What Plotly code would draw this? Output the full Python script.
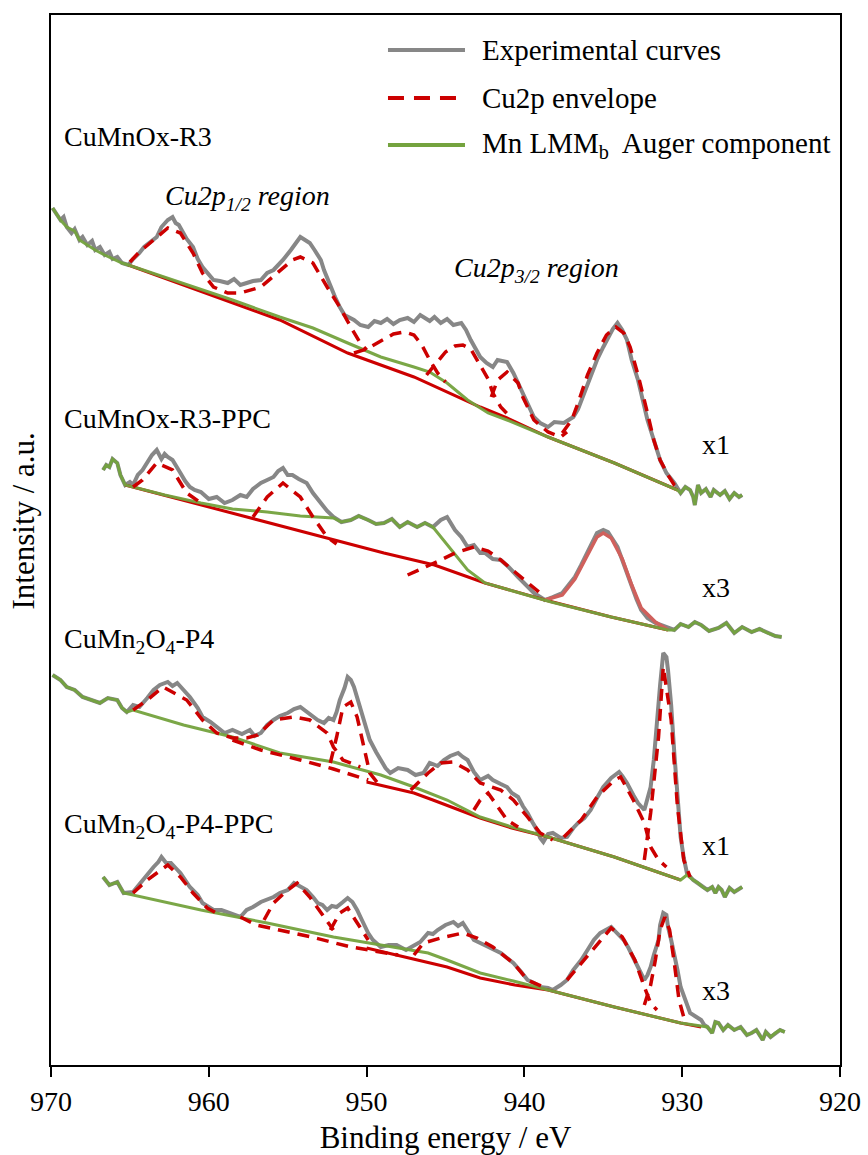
import plotly.graph_objects as go

# ---------------- data (binding energy eV, intensity a.u.) ----------------
x_ticks = [970, 960, 950, 940, 930, 920]

sample_names = ["CuMnOx-R3", "CuMnOx-R3-PPC", "CuMn<sub>2</sub>O<sub>4</sub>-P4", "CuMn<sub>2</sub>O<sub>4</sub>-P4-PPC"]
scale_labels = ["x1", "x3", "x1", "x3"]

# ---- CuMnOx-R3 (x1)
r3_exp = [(969.9,857),(969.6,850),(969.4,845),(969.2,848),(969.0,838),(968.7,832),(968.5,836),(968.2,825),(968.0,828),
          (967.7,820),(967.4,824),(967.2,815),(966.9,818),(966.6,810),(966.3,813),(966.1,806),(965.8,808),(965.5,802),
          (965.1,800),(964.8,806),(964.4,812),(964.1,818),(963.8,822),(963.3,828),(963.0,838),(962.6,845),(962.3,848),
          (962.1,842),(961.9,840),(961.7,835),(961.4,826),(961.0,818),(960.7,806),(960.4,798),(960.0,790),(959.7,785),
          (959.3,784),(958.8,782),(958.4,786),(958.0,780),(957.6,782),(957.2,784),(956.7,785),(956.3,792),(955.9,795),
          (955.7,798),(955.3,805),(954.8,815),(954.5,822),(954.2,828),(953.9,825),(953.6,822),(953.3,815),(952.9,805),
          (952.7,795),(952.3,778),(952.0,768),(951.7,758),(951.4,750),(950.8,745),(950.4,740),(949.9,738),(949.5,744),
          (949.1,742),(948.7,746),(948.3,741),(947.9,745),(947.4,747),(947.0,743),(946.6,750),(946.4,748),(946.0,744),
          (945.7,748),(945.3,742),(944.9,746),(944.5,740),(944.0,742),(943.7,735),(943.4,725),(943.0,714),(942.8,708),
          (942.4,702),(942.0,698),(941.7,705),(941.3,703),(941.1,703),(940.7,692),(940.4,682),(940.1,672),(939.7,660),
          (939.4,648),(939.0,642),(938.5,638),(938.1,643),(937.5,642),(937.2,645),(936.9,648),(936.6,656),(936.2,672),
          (935.8,688),(935.4,705),(935.0,718),(934.7,728),(934.4,736),(934.1,742),(933.8,735),(933.5,725),(933.2,705),
          (932.8,685),(932.5,665),(932.2,645),(931.8,625),(931.4,605),(931.0,592),(930.5,582),(930.1,572),(929.8,578),
          (929.5,575),(929.3,568),(929.2,560),(929.0,580),(928.8,572),(928.5,576),(928.2,568),(928.0,575),(927.6,570),
          (927.3,574),(927.0,566),(926.7,572),(926.4,568),(926.2,570)]
r3_bg = [(965.1,800),(958.5,762),(955.5,745),(951.2,712),(947.0,688),(942.8,658),(941.1,647),(938.5,628),(934.3,602),(930.3,575)]
r3_aug = [(969.9,857),(969.4,845),(969.0,838),(968.5,834),(968.2,825),(967.7,820),(967.2,815),(966.6,810),(966.1,806),
          (965.5,802),(965.1,800),(958.5,765),(955.5,748),(953.4,737),(951.2,722),(949.1,708),(947.0,698),(946.0,693),
          (944.9,682),(943.6,665),(942.3,652),(941.1,645),(938.5,628),(934.3,602),(930.3,575),(930.1,572),(929.8,578),
          (929.5,575),(929.3,568),(929.2,560),(929.0,580),(928.8,572),(928.5,576),(928.2,568),(928.0,575),(927.6,570),
          (927.3,574),(927.0,566),(926.7,572),(926.4,568),(926.2,570)]
r3_env = [
    [(965.0,803),(964.4,813),(963.5,825),(962.6,837),(961.8,832),(961.0,812),(960.4,792),(959.7,778),(958.8,772),
     (958.0,772),(956.7,778),(955.7,792),(954.7,805),(954.2,808),(953.4,802),(952.5,778),(951.7,758),(951.0,738),
     (950.4,722),(950.0,715)],
    [(950.8,712),(950.0,716),(949.1,724),(948.3,731),(947.6,733),(947.0,730),(946.5,720),(946.0,705),(945.5,692),(945.0,683)],
    [(946.2,690),(945.6,702),(945.0,713),(944.4,719),(943.9,720),(943.4,716),(943.0,705),(942.3,686),(942.0,672),
     (941.5,658),(940.9,648)],
    [(942.1,668),(941.7,685),(941.1,693),(940.4,682),(940.1,668),(939.4,645),(938.5,633),(937.7,628),(937.3,633)],
    [(937.6,632),(937.0,645),(936.6,662),(936.0,690),(935.4,712),(934.8,730),(934.2,738),(933.7,732),(933.3,718),
     (932.8,690),(932.2,652),(931.8,625),(931.4,605),(930.9,590),(930.5,580),(930.1,575)],
]
r3_env_solid = []

# ---- CuMnOx-R3-PPC (x3)
r3p_exp = [(966.7,595),(966.5,600),(966.3,598),(966.1,606),(965.8,602),(965.6,590),(965.3,580),(965.0,583),(964.8,580),
           (964.5,590),(964.2,595),(963.9,603),(963.6,610),(963.3,615),(963.0,606),(962.8,611),(962.6,608),(962.3,605),
           (962.0,598),(961.8,592),(961.5,584),(961.2,578),(960.9,575),(960.5,573),(960.0,566),(959.5,568),(959.0,562),
           (958.5,565),(958.0,570),(957.6,568),(957.2,576),(956.7,582),(956.3,585),(955.9,588),(955.6,594),(955.3,597),
           (955.0,590),(954.7,590),(954.3,586),(953.8,582),(953.4,572),(952.9,562),(952.5,554),(952.1,548),(951.6,543),
           (951.0,545),(950.5,549),(949.9,545),(949.4,541),(948.9,542),(948.4,546),(947.9,538),(947.4,543),(946.8,538),
           (946.3,542),(945.8,538),(945.3,545),(944.9,548),(944.6,540),(944.4,535),(944.0,528),(943.6,518),(943.2,520),
           (942.8,512),(942.5,512),(942.0,506),(941.5,505),(941.0,498),(940.4,488),(939.9,480),(939.4,472),(939.0,468),
           (938.7,465),(938.2,468),(937.6,472),(937.2,480),(936.8,488),(936.4,500),(936.0,512),(935.7,522),(935.4,532),
           (935.0,535),(934.7,533),(934.5,528),(934.1,518),(933.8,505),(933.5,492),(933.2,478),(932.9,466),(932.6,455),
           (932.2,447),(931.7,442),(931.3,440),(930.9,437),(930.5,435),(930.1,441),(929.6,438),(929.2,443),(928.8,440),
           (928.3,434),(927.7,437),(927.2,442),(926.7,432),(926.2,438),(925.6,433),(925.1,436),(924.6,432),(924.1,429),
           (923.7,428)]
r3p_bg = [(965.3,580),(960.5,560),(956.3,543),(952.1,525),(948.9,512),(945.7,500),(942.5,482),(938.7,465),(934.5,448),(930.9,435)]
r3p_aug = [(966.7,595),(966.5,600),(966.3,598),(966.1,606),(965.8,602),(965.6,590),(965.3,580),(962.8,570),(960.5,562),
           (958.5,556),(956.3,553),(954.2,549),(952.1,547),(951.6,543),(951.0,545),(950.5,549),(949.9,545),(949.4,541),
           (948.9,542),(948.4,546),(947.9,538),(947.4,543),(946.8,538),(946.3,542),(945.8,538),(945.3,528),(944.6,515),
           (943.6,495),(942.5,482),(941.4,477),(938.3,463),(934.5,448),(930.9,435),(930.5,435),(930.1,441),(929.6,438),
           (929.2,443),(928.8,440),(928.3,434),(927.7,437),(927.2,442),(926.7,432),(926.2,438),(925.6,433),(925.1,436),
           (924.6,432),(924.1,429),(923.7,428)]
r3p_env = [
    [(964.8,578),(964.2,585),(963.3,602),(962.3,595),(961.4,572),(960.5,562)],
    [(957.2,548),(956.3,568),(955.3,582),(954.2,568),(953.4,548),(952.5,528),(951.9,521)],
    [(947.4,490),(946.4,497),(945.3,505),(944.4,512),(943.2,518),(942.3,514),(941.5,505),(940.6,493),(939.8,482),(938.7,468)],
]
r3p_env_solid = [(938.7,465),(937.6,470),(936.8,486),(936.0,510),(935.4,528),(935.0,532),(934.5,527),(933.8,506),
                 (933.2,480),(932.6,457),(931.7,443),(930.9,435)]

# ---- CuMn2O4-P4 (x1)
p4_exp = [(969.9,390),(969.4,385),(969.0,378),(968.5,375),(968.0,368),(967.4,365),(966.9,362),(966.4,367),(965.8,365),
          (965.5,357),(965.2,353),(964.8,360),(964.4,358),(963.9,367),(963.5,375),(963.1,380),(962.6,383),(962.3,379),
          (962.0,382),(961.6,375),(961.2,368),(960.7,357),(960.4,348),(959.9,343),(959.5,338),(959.0,332),(958.5,335),
          (957.9,331),(957.4,335),(957.1,329),(956.7,332),(956.3,340),(955.9,345),(955.5,349),(955.0,352),(954.6,356),
          (954.2,358),(953.8,353),(953.4,348),(953.1,345),(952.7,342),(952.4,347),(952.1,345),(951.9,353),(951.7,365),
          (951.4,377),(951.2,388),(951.0,385),(950.8,378),(950.6,368),(950.4,358),(950.1,340),(949.8,325),(949.4,313),
          (949.1,305),(948.8,297),(948.5,292),(948.0,297),(947.4,295),(946.9,290),(946.4,292),(946.0,302),(945.5,299),
          (945.1,305),(944.7,309),(944.2,312),(943.9,308),(943.6,305),(943.2,293),(942.8,285),(942.3,289),(942.0,285),
          (941.5,281),(941.1,278),(940.8,272),(940.4,268),(940.1,259),(939.8,252),(939.5,243),(939.2,235),(939.0,227),
          (938.8,223),(938.5,231),(938.2,232),(937.7,227),(937.3,228),(936.9,237),(936.6,242),(936.2,247),(935.8,255),
          (935.4,267),(935.0,278),(934.5,287),(934.2,291),(934.0,293),(933.8,289),(933.5,282),(933.1,270),(932.8,262),
          (932.4,255),(932.2,265),(932.0,278),(931.8,305),(931.6,345),(931.4,380),(931.2,412),(931.0,408),(930.9,395),
          (930.7,360),(930.5,312),(930.3,265),(930.1,228),(929.9,207),(929.7,192),(929.3,185),(929.0,182),(928.7,178),
          (928.4,175),(928.1,178),(927.9,172),(927.7,178),(927.5,175),(927.3,168),(927.0,177),(926.7,173),(926.4,176),
          (926.2,178)]
p4_bg = [(950.0,283),(947.0,272),(945.8,265),(942.8,247),(940.8,237),(938.5,228),(934.3,208),(930.1,185)]
p4_aug = [(969.9,390),(969.4,385),(969.0,378),(968.5,375),(968.0,368),(967.4,365),(966.9,362),(966.4,367),(965.8,365),
          (965.5,357),(965.2,353),(964.8,355),(961.6,340),(958.5,328),(955.5,312),(952.1,303),(949.1,290),(947.0,278),
          (944.9,265),(942.8,248),(940.8,238),(938.5,228),(934.3,208),(930.1,185),(929.7,190),(929.3,185),(929.0,182),
          (928.7,178),(928.4,175),(928.1,178),(927.9,172),(927.7,178),(927.5,175),(927.3,168),(927.0,177),(926.7,173),
          (926.4,176),(926.2,178)]
p4_env = [
    [(964.8,355),(963.9,365),(962.9,378),(961.4,365),(960.4,345),(959.5,332),(958.5,327),(957.6,327),(956.9,330),
     (955.9,345),(954.6,348),(953.6,345),(952.5,332),(952.1,318),(951.5,305),(950.4,298)],
    [(952.3,302),(951.9,328),(951.5,358),(951.0,363),(950.6,348),(950.2,318),(949.8,292),(949.3,282)],
    [(958.5,325),(956.7,315),(954.2,305),(952.1,296),(949.9,285)],
    [(947.2,275),(946.1,292),(945.3,302),(944.5,303),(943.6,295),(942.8,282),(941.5,275),(940.7,265),(939.8,248),
     (939.0,232),(938.2,225)],
    [(943.2,255),(942.8,265),(942.3,272),(941.7,258),(941.1,245),(940.4,238)],
    [(937.5,228),(936.4,245),(935.4,268),(934.3,285),(933.9,288),(933.1,265),(932.4,242),(932.0,218),(931.5,205),(931.0,198)],
    [(932.4,205),(932.0,252),(931.5,328),(931.2,398),(930.7,345),(930.3,258),(929.9,205),(929.5,188)],
]
p4_env_solid = []

# ---- CuMn2O4-P4-PPC (x3)
p4p_exp = [(966.7,188),(966.3,180),(965.8,183),(965.4,172),(964.8,173),(964.2,185),(963.5,198),(963.2,203),(963.0,208),
           (962.7,202),(962.4,202),(962.1,197),(961.8,192),(961.2,178),(960.7,170),(960.4,162),(959.7,155),(959.2,155),
           (958.6,152),(958.0,148),(957.6,155),(957.2,158),(956.7,163),(956.3,165),(955.9,168),(955.5,172),(955.0,175),
           (954.6,182),(954.2,179),(953.8,175),(953.4,168),(953.1,162),(952.8,160),(952.5,155),(952.2,159),(951.9,158),
           (951.5,163),(951.2,167),(950.9,163),(950.6,155),(950.3,145),(949.9,132),(949.6,125),(949.1,118),(948.6,120),
           (948.1,120),(947.5,115),(947.0,120),(946.6,123),(946.1,132),(945.8,131),(945.5,135),(945.0,140),(944.5,143),
           (944.2,139),(943.9,142),(943.5,133),(943.2,125),(942.8,122),(942.3,118),(942.0,115),(941.5,112),(941.1,107),
           (940.7,102),(940.2,93),(939.8,85),(939.4,82),(939.0,78),(938.5,77),(938.2,75),(937.7,80),(937.3,85),(936.9,95),
           (936.4,105),(936.0,115),(935.6,125),(935.2,132),(934.9,135),(934.5,138),(934.2,133),(933.7,125),(933.4,117),
           (933.1,108),(932.8,97),(932.4,85),(932.2,90),(932.0,98),(931.8,110),(931.5,125),(931.4,140),(931.2,152),
           (931.0,150),(930.9,138),(930.7,125),(930.5,112),(930.3,95),(930.1,78),(929.8,65),(929.5,52),(929.1,48),
           (928.8,45),(928.6,40),(928.4,38),(928.1,32),(927.9,43),(927.7,42),(927.4,35),(927.1,40),(926.7,35),(926.3,38),
           (925.9,30),(925.6,32),(925.3,35),(924.9,25),(924.7,33),(924.4,28),(924.1,32),(923.8,35),(923.5,33)]
p4p_bg = [(950.0,117),(947.0,106),(944.9,98),(942.8,87),(940.6,80),(938.5,75),(934.3,58),(930.1,42),(928.8,38)]
p4p_aug = [(966.7,188),(966.3,180),(965.8,183),(965.4,172),(960.5,155),(956.3,142),(952.1,128),(949.0,120),(946.1,112),
           (944.9,105),(942.8,92),(940.7,84),(938.5,75),(934.3,58),(930.1,42),(928.4,38),(928.1,32),(927.9,43),(927.7,42),
           (927.4,35),(927.1,40),(926.7,35),(926.3,38),(925.9,30),(925.6,32),(925.3,35),(924.9,25),(924.7,33),(924.4,28),
           (924.1,32),(923.8,35),(923.5,33)]
p4p_env = [
    [(964.8,172),(963.9,185),(962.6,200),(961.8,188),(961.0,172),(960.1,157),(959.3,150)],
    [(956.5,145),(955.9,162),(955.0,175),(954.4,182),(953.6,168),(952.7,148),(952.1,135)],
    [(952.3,135),(951.7,152),(951.2,157),(950.4,138),(949.9,125)],
    [(958.0,148),(957.0,140),(953.5,128),(951.0,118),(948.0,110)],
    [(947.0,110),(946.4,122),(945.3,127),(943.9,132),(943.0,127),(942.0,118),(940.7,102),(939.8,85),(938.8,78)],
    [(937.3,85),(936.4,102),(935.5,118),(934.5,137),(933.8,128),(933.0,105),(932.4,78),(932.0,62),(931.6,55)],
    [(932.4,60),(932.0,80),(931.7,105),(931.4,135),(931.1,148),(930.8,135),(930.5,102),(930.2,65),(929.8,42)],
]
p4p_env_solid = []

spectra = [
    (r3_exp, r3_bg, r3_aug, r3_env, r3_env_solid),
    (r3p_exp, r3p_bg, r3p_aug, r3p_env, r3p_env_solid),
    (p4_exp, p4_bg, p4_aug, p4_env, p4_env_solid),
    (p4p_exp, p4p_bg, p4p_aug, p4p_env, p4p_env_solid),
]

legend_labels = ["Experimental curves", "Cu2p envelope", "Mn LMM<sub>b</sub>  Auger component"]

# ---------------- styling ----------------
FONT = "Liberation Serif"
GRAY = "#878787"
RED = "#CC0000"
RED_LIGHT = "#D0605C"
GREEN = "#74A33E"


def xy(points):
    return [p[0] for p in points], [p[1] for p in points]


def xy_segments(segs):
    xs, ys = [], []
    for s in segs:
        a, b = xy(s)
        xs += a + [None]
        ys += b + [None]
    return xs, ys


fig = go.Figure()
for exp, bg, aug, env, env_solid in spectra:
    x, y = xy(exp)
    fig.add_trace(go.Scatter(x=x, y=y, mode="lines", line=dict(color=GRAY, width=4), showlegend=False))
    x, y = xy(bg)
    fig.add_trace(go.Scatter(x=x, y=y, mode="lines", line=dict(color=RED, width=3), showlegend=False))
    if env_solid:
        x, y = xy(env_solid)
        fig.add_trace(go.Scatter(x=x, y=y, mode="lines", line=dict(color=RED_LIGHT, width=3.5), showlegend=False))
    x, y = xy(aug)
    fig.add_trace(go.Scatter(x=x, y=y, mode="lines", line=dict(color=GREEN, width=3), opacity=0.95, showlegend=False))
    x, y = xy_segments(env)
    fig.add_trace(go.Scatter(x=x, y=y, mode="lines", connectgaps=False,
                             line=dict(color=RED, width=3.5, dash="12px,8px"), showlegend=False))

# manual legend (long line samples as in the original)
leg_y = [0.9667, 0.9210, 0.8762]
leg_styles = [dict(color=GRAY, width=4), dict(color=RED, width=4, dash="16px,10px"), dict(color=GREEN, width=4)]
shapes = []
annotations = []
for ly, st, lab in zip(leg_y, leg_styles, legend_labels):
    shapes.append(dict(type="line", xref="paper", yref="paper", x0=0.4271, x1=0.5247, y0=ly, y1=ly, line=st))
    annotations.append(dict(xref="paper", yref="paper", x=0.5437, y=ly, text=lab, showarrow=False,
                            xanchor="left", yanchor="middle", font=dict(family=FONT, size=29, color="black")))

# sample labels
label_pos = [(969.3, 929), (969.3, 647), (969.3, 425), (969.3, 240)]
scale_pos = [(928.9, 621), (928.9, 478), (928.9, 220), (928.9, 75)]
for (lx, ly), name in zip(label_pos, sample_names):
    annotations.append(dict(x=lx, y=ly, text=name, showarrow=False, xanchor="left", yanchor="middle",
                            font=dict(family=FONT, size=28, color="black")))
for (sx, sy), s in zip(scale_pos, scale_labels):
    annotations.append(dict(x=sx, y=sy, text=s, showarrow=False, xanchor="left", yanchor="middle",
                            font=dict(family=FONT, size=28, color="black")))

annotations.append(dict(x=962.9, y=868, text="<i>Cu2p<sub>1/2</sub> region</i>", showarrow=False,
                        xanchor="left", yanchor="middle", font=dict(family=FONT, size=28, color="black")))
annotations.append(dict(x=944.6, y=796, text="<i>Cu2p<sub>3/2</sub> region</i>", showarrow=False,
                        xanchor="left", yanchor="middle", font=dict(family=FONT, size=28, color="black")))

# y-axis title
annotations.append(dict(xref="paper", yref="paper", x=-0.035, y=0.518, text="Intensity / a.u.", textangle=-90,
                        showarrow=False, xanchor="center", yanchor="middle",
                        font=dict(family=FONT, size=31, color="black")))

fig.update_layout(
    width=868, height=1155,
    margin=dict(l=51, r=28, t=15, b=90),
    paper_bgcolor="white", plot_bgcolor="white",
    font=dict(family=FONT, color="black"),
    shapes=shapes, annotations=annotations,
    showlegend=False,
)
fig.update_xaxes(range=[970, 920], tickvals=x_ticks, ticktext=[str(t) for t in x_ticks],
                 ticks="outside", ticklen=10, tickwidth=1.5, tickcolor="black",
                 showline=True, linecolor="black", linewidth=2, mirror=True,
                 showgrid=False, zeroline=False, tickfont=dict(family=FONT, size=28),
                 ticklabeloverflow="allow", automargin=False,
                 title=dict(text="Binding energy / eV", font=dict(family=FONT, size=31), standoff=12))
fig.update_yaxes(range=[0, 1050], showticklabels=False, ticks="", showline=True, linecolor="black",
                 linewidth=2, mirror=True, showgrid=False, zeroline=False, automargin=False)

# remove the default 8px page margin so the figure fills the 868x1155 window exactly; hide the mode bar
fig.write_html("out.html", config={"displayModeBar": False},
               post_script="document.body.style.margin='0';document.body.style.overflow='hidden';")
